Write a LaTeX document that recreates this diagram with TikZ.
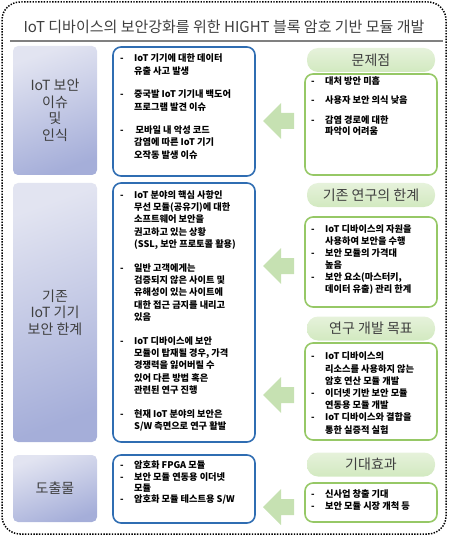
\documentclass[tikz,border=0pt]{standalone}
\usepackage{fontspec}
\setmainfont{Noto Sans CJK KR}
\usetikzlibrary{shapes.arrows}

\definecolor{txtgray}{HTML}{3F3F3F}
\definecolor{boxblue}{HTML}{2F6DB2}
\definecolor{boxgreen}{HTML}{96C866}
\definecolor{pilltop}{HTML}{E6F2DB}
\definecolor{pillbot}{HTML}{D2E9C0}
\definecolor{arrowgreen}{HTML}{C6E1B2}
\definecolor{lavtop}{HTML}{E2E4F1}
\definecolor{lavbot}{HTML}{A5AED9}

\newcommand{\dashitem}{\makebox[14pt][l]{-}}
\newcommand{\contline}{\hspace*{14pt}}

\tikzset{
  sidebox/.style={rounded corners=5pt,top color=lavtop,bottom color=lavbot,
    shading angle=20,minimum width=84pt,text=txtgray,align=center,
    font=\fontsize{14}{16.5}\selectfont},
  bluebox/.style={draw=boxblue,line width=1.6pt,rounded corners=8pt,fill=white,
    minimum width=142pt},
  greenbox/.style={draw=boxgreen,line width=1.6pt,rounded corners=8pt,fill=white,
    minimum width=132pt},
  pill/.style={rounded corners=11pt,top color=pilltop,bottom color=pillbot,
    minimum width=128pt,minimum height=24pt,text=txtgray,
    font=\fontsize{14}{16}\selectfont},
  bodytext/.style={anchor=north west,inner sep=0pt,align=left,text=black,
    font=\bfseries\fontsize{9.2}{12.4}\selectfont},
  arrowfill/.style={fill=arrowgreen}
}

\begin{document}
\begin{tikzpicture}[x=1pt,y=-1pt]
\useasboundingbox (0,0) rectangle (456,545);

% outer frame and title
\draw[line width=1.5pt,dash pattern=on 1.4pt off 1.4pt,rounded corners=18pt] (2,2) rectangle (446,534);
\node[text=txtgray,font=\fontsize{15}{18}\selectfont] (title) at (224,27) {IoT 디바이스의 보안강화를 위한 HIGHT 블록 암호 기반 모듈 개발};
\draw[line width=2pt,gray] (10,41) -- (443,41);

% left labels
\node[sidebox,minimum height=129pt] (l1) at (55,110.5) {IoT 보안\\이슈\\및\\인식};
\node[sidebox,minimum height=259pt] (l2) at (55,312.5) {기존\\IoT 기기\\보안 한계};
\node[sidebox,minimum height=67pt] (l3) at (55,488.5) {도출물};

% middle boxes
\node[bluebox,minimum height=129pt] (b1) at (184,111.5) {};
\node[bluebox,minimum height=259pt] (b2) at (184,312.5) {};
\node[bluebox,minimum height=68pt] (b3) at (184,489) {};

\node[bodytext] (b1txt) at (120,54) {\dashitem IoT 기기에 대한 데이터\\
\contline 유출 사고 발생\\[11pt]
\dashitem 중국발 IoT 기기내 백도어\\
\contline 프로그램 발견 이슈\\[11pt]
\dashitem \,모바일 내 악성 코드\\
\contline 감염에 따른 IoT 기기\\
\contline 오작동 발생 이슈};

\node[bodytext] (b2txt) at (120,190) {\dashitem IoT 분야의 핵심 사항인\\
\contline 무선 모듈(공유기)에 대한\\
\contline 소프트웨어 보안을\\
\contline 권고하고 있는 상황\\
\contline (SSL, 보안 프로토콜 활용)\\[11pt]
\dashitem 일반 고객에게는\\
\contline 검증되지 않은 사이트 및\\
\contline 유해성이 있는 사이트에\\
\contline 대한 접근 금지를 내리고\\
\contline 있음\\[11pt]
\dashitem IoT 디바이스에 보안\\
\contline 모듈이 탑재될 경우, 가격\\
\contline 경쟁력을 잃어버릴 수\\
\contline 있어 다른 방법 혹은\\
\contline 관련된 연구 진행\\[11pt]
\dashitem 현재 IoT 분야의 보안은\\
\contline S/W 측면으로 연구 활발};

\node[bodytext,font=\bfseries\fontsize{9.2}{11.3}\selectfont] (b3txt) at (120,461) {\dashitem 암호화 FPGA 모듈\\
\dashitem 보안 모듈 연동용 이더넷\\
\contline 모듈\\
\dashitem 암호화 모듈 테스트용 S/W};

% arrows
\foreach \ay in {121,266,395,507}
  \fill[arrowfill] (263,\ay) -- (281,\ay-18) -- (281,\ay-8) -- (294,\ay-8)
    -- (294,\ay+8) -- (281,\ay+8) -- (281,\ay+18) -- cycle;

% right column
\node[pill] (p1) at (371,60) {문제점};
\node[greenbox,minimum height=101pt] (g1) at (371,124.5) {};
\node[bodytext,font=\bfseries\fontsize{9.2}{11}\selectfont] (g1txt) at (311,76) {\dashitem 대처 방안 미흡\\[8.5pt]
\dashitem 사용자 보안 의식 낮음\\[8.5pt]
\dashitem 감염 경로에 대한\\
\contline 파악이 어려움};

\node[pill] (p2) at (371,195) {기존 연구의 한계};
\node[greenbox,minimum height=90pt] (g2) at (371,262) {};
\node[bodytext,font=\bfseries\fontsize{9.2}{12}\selectfont] (g2txt) at (311,225) {\dashitem IoT 디바이스의 자원을\\
\contline 사용하여 보안을 수행\\
\dashitem 보안 모듈의 가격대\\
\contline 높음\\
\dashitem 보안 요소(마스터키,\\
\contline 데이터 유출) 관리 한계};

\node[pill] (p3) at (371,328.5) {연구 개발 목표};
\node[greenbox,minimum height=97pt] (g3) at (371,391.5) {};
\node[bodytext,font=\bfseries\fontsize{9.2}{12.2}\selectfont] (g3txt) at (311,352) {\dashitem IoT 디바이스의\\
\contline 리소스를 사용하지 않는\\
\contline 암호 연산 모듈 개발\\
\dashitem 이더넷 기반 보안 모듈\\
\contline 연동용 모듈 개발\\
\dashitem IoT 디바이스와 결합을\\
\contline 통한 실증적 실험};

\node[pill] (p4) at (371,464.5) {기대효과};
\node[greenbox,minimum height=39pt] (g4) at (371,502.5) {};
\node[bodytext,font=\bfseries\fontsize{9.2}{12}\selectfont] (g4txt) at (311,490) {\dashitem 신사업 창출 기대\\
\dashitem 보안 모듈 시장 개척 등};
\end{tikzpicture}
\end{document}
